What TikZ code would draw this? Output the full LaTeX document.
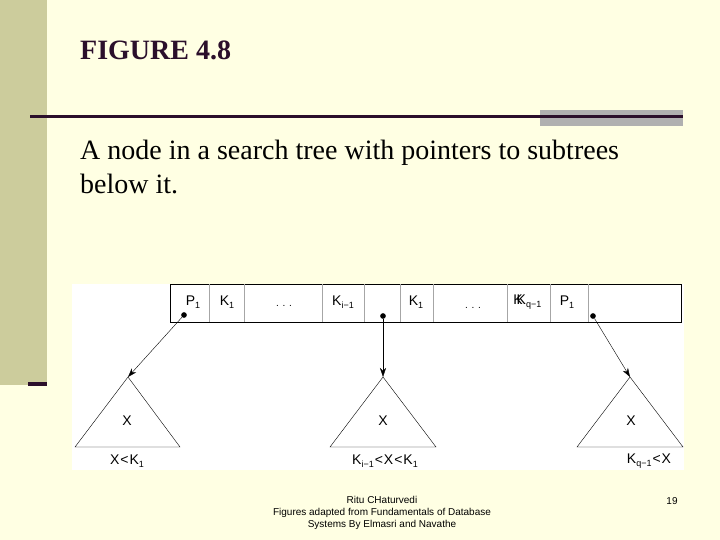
\documentclass[tikz,border=0pt]{standalone}
\usepackage{fontspec}
\setmainfont{Liberation Serif}
\newfontfamily\arial{Liberation Sans}
\usetikzlibrary{arrows.meta}
\definecolor{bg}{HTML}{FFFFE3}
\definecolor{bar}{HTML}{CCCC9C}
\definecolor{dk}{HTML}{2B0F2B}
\definecolor{gr}{HTML}{B0B0B0}
\newcommand{\sbs}[1]{\raisebox{-0.35ex}{\fontsize{9}{10}\selectfont #1}}
\begin{document}
\begin{tikzpicture}[x=1pt,y=-1pt,
  lbl/.style={font=\arial\fontsize{14}{16}\selectfont,inner sep=0pt},
  tri/.style={draw,thin},
  arr/.style={-{Stealth[length=9pt,width=6pt]},thin},
  dot/.style={circle,fill,inner sep=2pt}]
\useasboundingbox (0,0) rectangle (720,540);
\fill[bg] (0,0) rectangle (720,540);
\fill[bar] (0,0) rectangle (47,385);
\fill[dk] (28,382) rectangle (47,386);
\fill[gr] (540,110) rectangle (683,126);
\draw[dk,line width=3pt] (30,117) -- (683,117);
\node[anchor=west,font=\bfseries\fontsize{28}{30}\selectfont,text=dk,inner sep=0pt] (t) at (80,50) {FIGURE 4.8};
\node[anchor=north west,align=left,font=\fontsize{28}{34}\selectfont,inner sep=0pt] (st) at (80,140) {A node in a search tree with pointers to subtrees\\below it.};
\fill[white] (72,284) rectangle (684,470);
\draw[thin] (170,284) rectangle (681,322);
\foreach \x in {209,244,322,364,400,433,507,550,588}{\draw[gray!70] (\x,284) -- (\x,322);}
\node[lbl] (p1) at (193,302) {P\sbs{1}};
\node[lbl] (k1) at (227,302) {K\sbs{1}};
\node[lbl] (d1) at (284,306) {\fontsize{10}{10}\selectfont. . .};
\node[lbl] (ki) at (343,302) {K\sbs{i−1}};
\node[lbl] (k1b) at (416,302) {K\sbs{1}};
\node[lbl] (d2) at (473,308) {\fontsize{10}{10}\selectfont. . .};
\node[lbl] (kq) at (529,302) {\llap{K\kern-6pt}K\sbs{q−1}};
\node[lbl] (p2) at (567,302) {P\sbs{1}};
\node[dot] (a) at (184,315) {};
\node[dot] (b) at (383,316) {};
\node[dot] (c) at (593,316) {};
\coordinate (ta) at (128,377); \coordinate (tb) at (383,377); \coordinate (tc) at (630,377);
\draw[tri] (ta) -- (75,447) -- (180,447) -- cycle;
\draw[tri] (tb) -- (330,447) -- (436,447) -- cycle;
\draw[tri] (tc) -- (577,447) -- (683,447) -- cycle;
\draw[arr] (a) -- (ta);
\draw[arr] (b) -- (tb);
\draw[arr] (c) -- (tc);
\node[lbl] (x1) at (127,421) {X};
\node[lbl] (x2) at (383,421) {X};
\node[lbl] (x3) at (631,421) {X};
\node[lbl] (l1) at (127,461) {X\kern1pt<\kern1ptK\sbs{1}};
\node[lbl] (l2) at (385,461) {K\sbs{i−1}\kern1pt<\kern1ptX\kern1pt<\kern1ptK\sbs{1}};
\node[lbl] (l3) at (649,461) {K\sbs{q−1}\kern1pt<\kern1ptX};
\node[font=\arial\fontsize{10}{12}\selectfont,align=center] (ft) at (382,513) {Ritu CHaturvedi\\Figures adapted from Fundamentals of Database\\Systems By Elmasri and Navathe};
\node[font=\arial\fontsize{10}{10}\selectfont] (pg) at (672,501) {19};
\end{tikzpicture}
\end{document}
